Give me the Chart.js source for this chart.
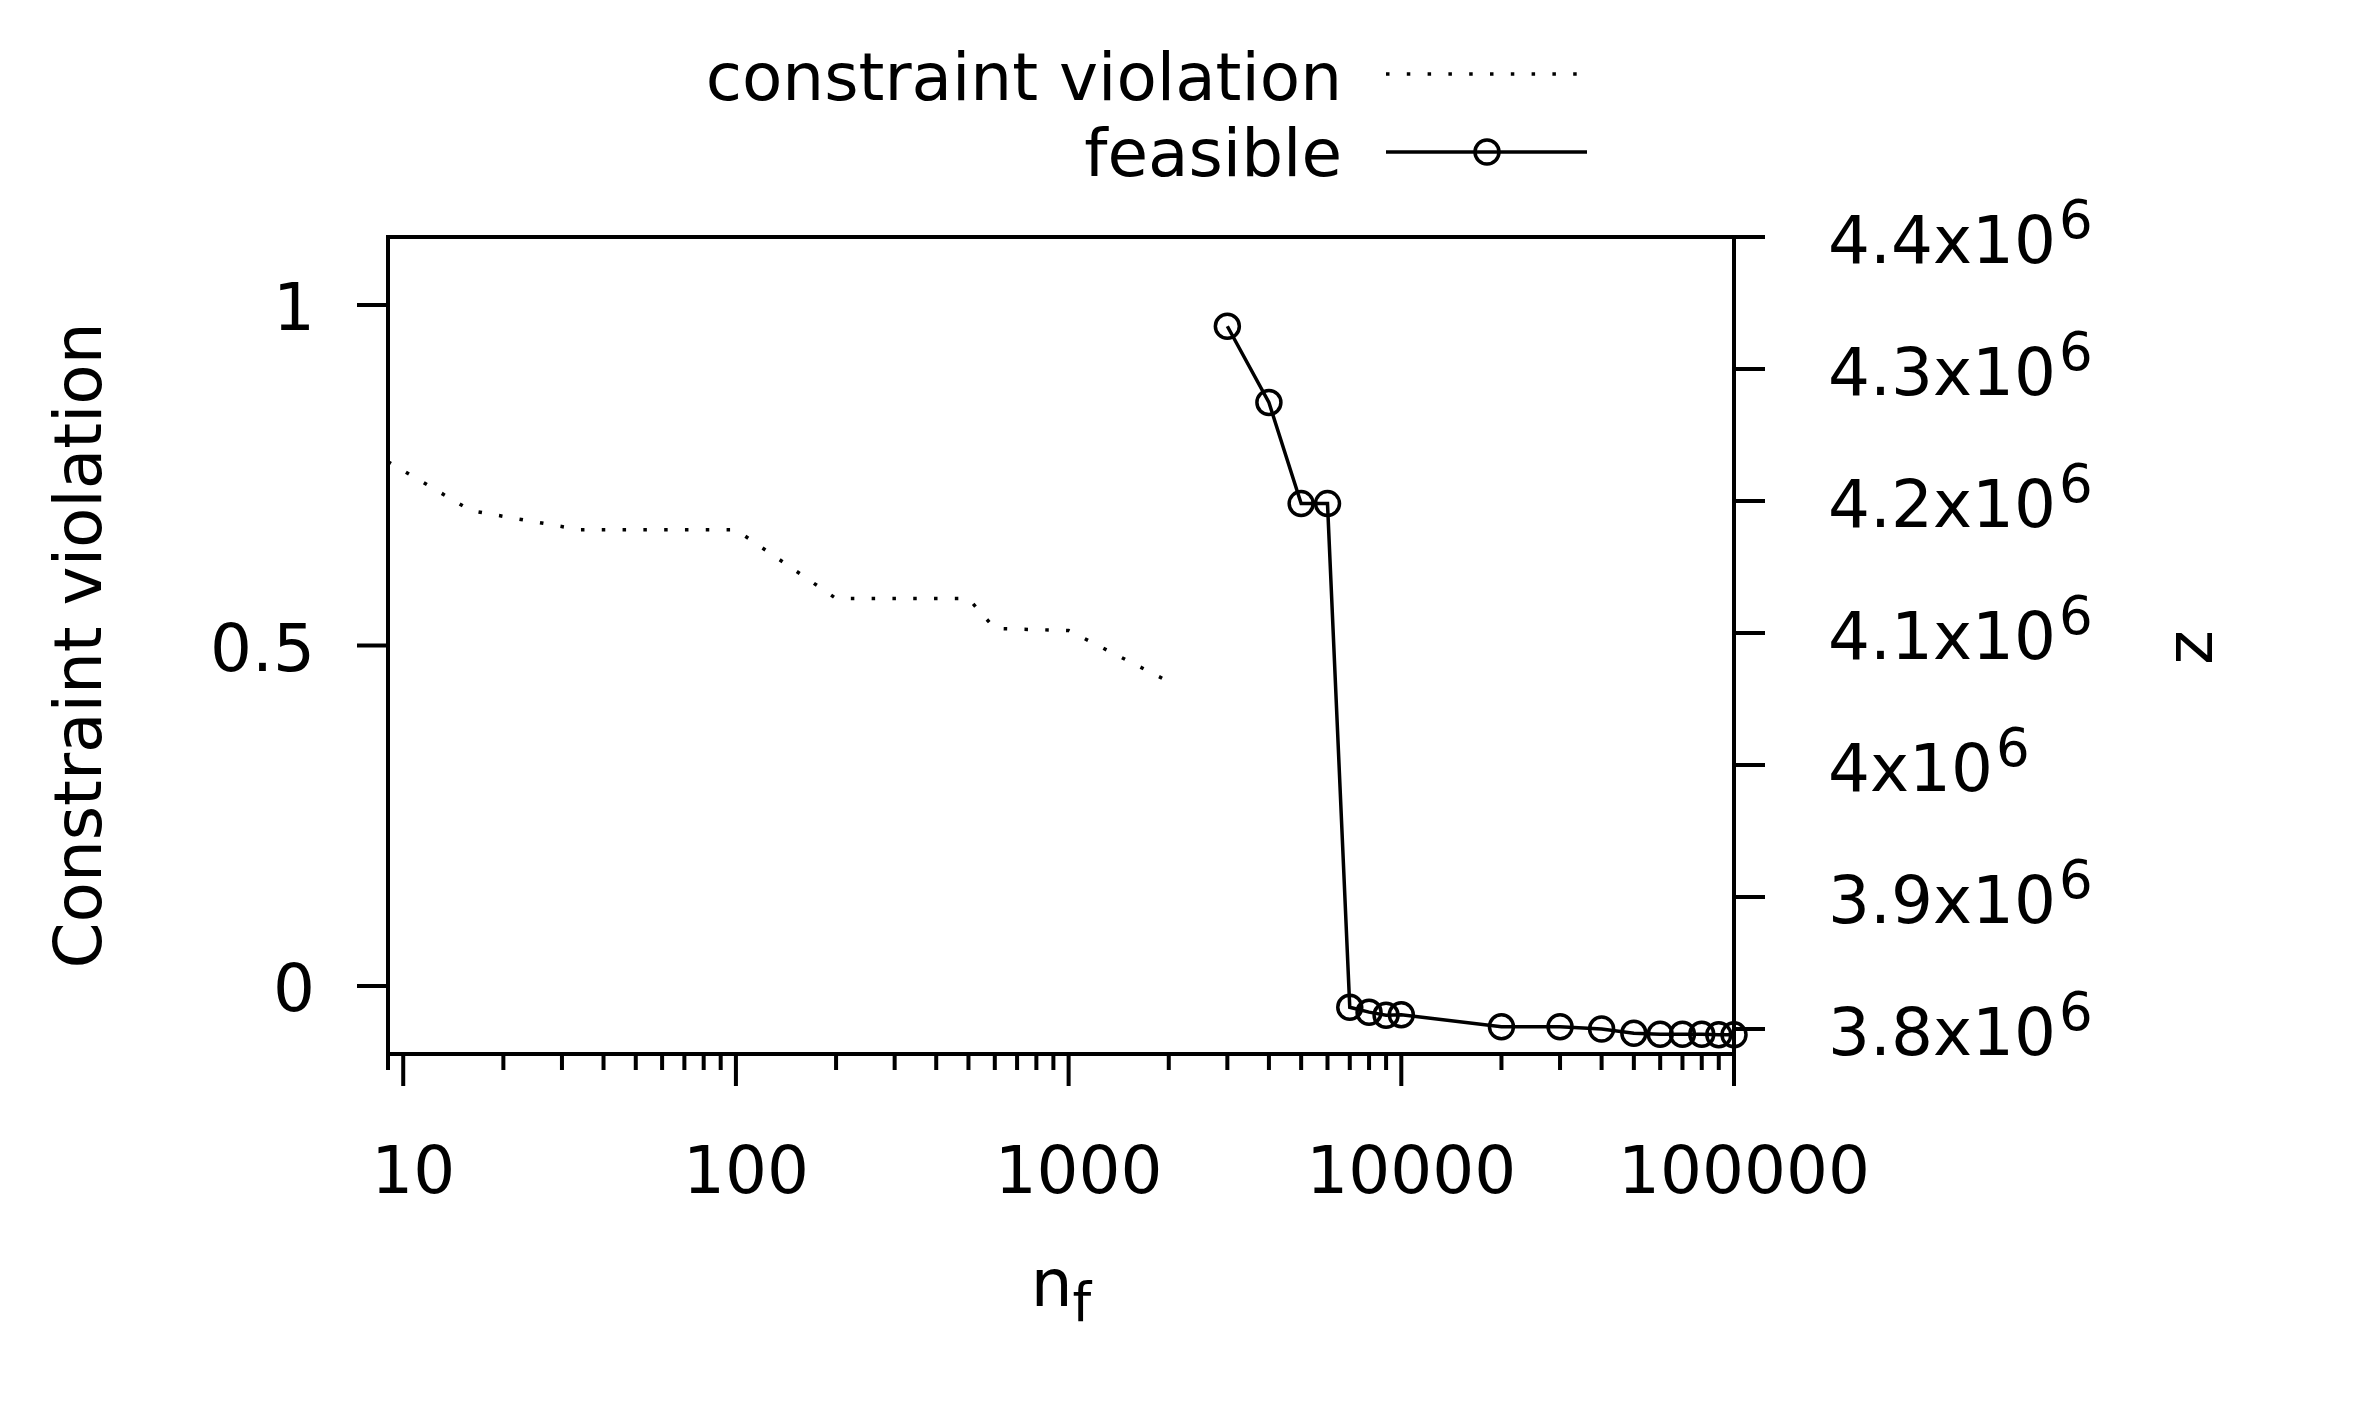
<!DOCTYPE html>
<html>
<head>
<meta charset="utf-8">
<script src="https://cdn.jsdelivr.net/npm/chart.js@4.4.0/dist/chart.umd.min.js"></script>
<style>
  html, body { margin: 0; padding: 0; background: #fff; }
  canvas { display: block; }
</style>
</head>
<body>
<canvas id="cv" width="2358" height="1417" style="width:2358px;height:1417px"></canvas>
<script>
// infeasible runs: constraint violation (left axis)
const nInfeasible = [9, 16, 34, 100, 200, 500, 600, 1000, 2000];
const violation = [0.77, 0.698, 0.67, 0.67, 0.569, 0.569, 0.525, 0.522, 0.447];

// feasible runs: objective z (right axis)
const nFeasible = [3000, 4000, 5000, 6000, 7000, 8000, 9000, 10000,
                   20000, 30000, 40000, 50000, 60000, 70000, 80000, 90000, 100000];
const zFeasible = [4.3324e6, 4.2746e6, 4.198e6, 4.198e6, 3.8164e6, 3.8127e6, 3.8103e6, 3.8107e6,
                   3.8016e6, 3.8016e6, 3.8e6, 3.7967e6, 3.7959e6, 3.7959e6, 3.7959e6, 3.7955e6, 3.7955e6];

const xMajorTicks = [10, 100, 1000, 10000, 100000];
const yTicks = [0, 0.5, 1];
const y2Ticks = [3.8e6, 3.9e6, 4.0e6, 4.1e6, 4.2e6, 4.3e6, 4.4e6];

const FONT = '"DejaVu Sans", sans-serif';
const BIG = '66px ' + FONT;
const SMALL = '53px ' + FONT;

// minor log ticks (2..9 in each decade, plus 9 at the left edge)
const xMinorTicks = [9];
for (let d = 10; d < 100000; d *= 10) {
    for (let m = 2; m <= 9; m++) xMinorTicks.push(m * d);
}

const frame = {
    id: 'frame',
    afterDatasetsDraw(chart) {
        const { ctx, chartArea: a, scales } = chart;
        const x = scales.x, y = scales.y, y2 = scales.y2;
        ctx.save();
        ctx.strokeStyle = '#000';
        ctx.fillStyle = '#000';
        ctx.lineWidth = 4;
        ctx.lineCap = 'butt';
        ctx.strokeRect(a.left, a.top, a.right - a.left, a.bottom - a.top);

        ctx.beginPath();
        xMajorTicks.forEach(v => {
            const px = x.getPixelForValue(v);
            ctx.moveTo(px, a.bottom); ctx.lineTo(px, a.bottom + 32);
        });
        xMinorTicks.forEach(v => {
            const px = x.getPixelForValue(v);
            ctx.moveTo(px, a.bottom); ctx.lineTo(px, a.bottom + 16);
        });
        yTicks.forEach(v => {
            const py = y.getPixelForValue(v);
            ctx.moveTo(a.left, py); ctx.lineTo(a.left - 31, py);
        });
        y2Ticks.forEach(v => {
            const py = y2.getPixelForValue(v);
            ctx.moveTo(a.right, py); ctx.lineTo(a.right + 31, py);
        });
        ctx.stroke();

        ctx.font = BIG;
        ctx.textBaseline = 'alphabetic';

        // x tick labels
        ctx.textAlign = 'center';
        xMajorTicks.forEach(v => {
            ctx.fillText(String(v), x.getPixelForValue(v) + 10, 1193);
        });

        // left tick labels
        ctx.textAlign = 'right';
        yTicks.forEach(v => {
            ctx.fillText(String(v), a.left - 73, y.getPixelForValue(v) + 25);
        });

        // right tick labels with superscript exponent
        ctx.textAlign = 'left';
        y2Ticks.forEach(v => {
            const py = y2.getPixelForValue(v);
            const base = +(v / 1e6).toFixed(1) + 'x10';
            ctx.font = BIG;
            ctx.fillText(base, 1828, py + 26);
            const w = ctx.measureText(base).width;
            ctx.font = SMALL;
            ctx.fillText('6', 1828 + w + 3, py + 1);
        });

        // axis titles
        ctx.font = BIG;
        ctx.textAlign = 'center';
        const midY = (a.top + a.bottom) / 2;
        ctx.save();
        ctx.translate(101, midY);
        ctx.rotate(-Math.PI / 2);
        ctx.fillText('Constraint violation', 0, 0);
        ctx.restore();

        ctx.save();
        ctx.translate(2212, midY + 2);
        ctx.rotate(-Math.PI / 2);
        ctx.fillText('z', 0, 0);
        ctx.restore();

        // x title n_f
        ctx.textAlign = 'left';
        const nW = ctx.measureText('n').width;
        ctx.font = SMALL;
        const fW = ctx.measureText('f').width;
        const sx = (a.left + a.right) / 2 - (nW + fW) / 2;
        ctx.font = BIG;
        ctx.fillText('n', sx, 1306);
        ctx.font = SMALL;
        ctx.fillText('f', sx + nW, 1321);

        // legend
        ctx.font = BIG;
        ctx.textAlign = 'right';
        ctx.fillText('constraint violation', 1342, 100);
        ctx.fillText('feasible', 1342, 176);

        ctx.lineWidth = 3.5;
        ctx.setLineDash([3.5, 17.3]);
        ctx.beginPath();
        ctx.moveTo(1386, 74); ctx.lineTo(1580, 74);
        ctx.stroke();
        ctx.setLineDash([]);
        ctx.lineWidth = 3.5;
        ctx.beginPath();
        ctx.moveTo(1386, 152); ctx.lineTo(1587, 152);
        ctx.stroke();
        ctx.beginPath();
        ctx.arc(1487, 152, 12, 0, Math.PI * 2);
        ctx.stroke();

        ctx.restore();
    }
};

new Chart(document.getElementById('cv'), {
    type: 'line',
    data: {
        datasets: [{
            label: 'constraint violation',
            data: nInfeasible.map((n, i) => ({ x: n, y: violation[i] })),
            yAxisID: 'y',
            borderColor: '#000',
            borderWidth: 3.5,
            borderDash: [3.5, 17.3],
            borderCapStyle: 'butt',
            pointRadius: 0,
            tension: 0,
            fill: false
        }, {
            label: 'feasible',
            data: nFeasible.map((n, i) => ({ x: n, y: zFeasible[i] })),
            yAxisID: 'y2',
            borderColor: '#000',
            borderWidth: 3.5,
            pointRadius: 12,
            pointBorderWidth: 3.5,
            pointBorderColor: '#000',
            pointBackgroundColor: 'rgba(0,0,0,0)',
            tension: 0,
            fill: false,
            clip: false
        }]
    },
    options: {
        responsive: false,
        animation: false,
        devicePixelRatio: 1,
        layout: { padding: { left: 388, right: 624, top: 237, bottom: 363 } },
        plugins: { legend: { display: false }, tooltip: { enabled: false } },
        scales: {
            x: { type: 'logarithmic', min: 9, max: 100000, display: false },
            y: { type: 'linear', position: 'left', min: -0.1, max: 1.1, display: false },
            y2: { type: 'linear', position: 'right', min: 3.781e6, max: 4.4e6, display: false }
        }
    },
    plugins: [frame]
});
</script>
</body>
</html>
